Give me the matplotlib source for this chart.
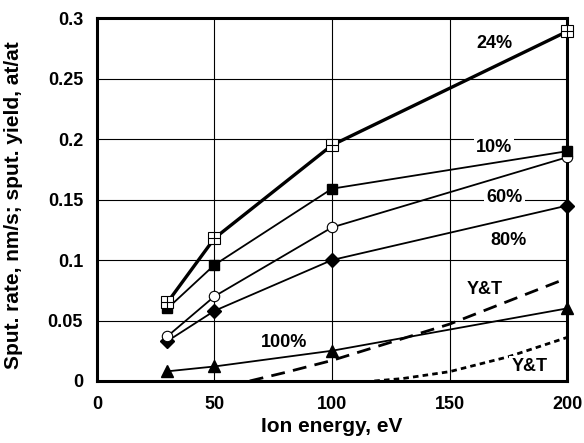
import matplotlib
matplotlib.use("Agg")
import matplotlib.pyplot as plt

plt.rcParams['font.family'] = ['Liberation Sans', 'DejaVu Sans']
plt.rcParams['font.weight'] = 'bold'

energy = [30, 50, 100, 200]
s24 = [0.065, 0.118, 0.195, 0.289]
s10 = [0.060, 0.096, 0.159, 0.190]
s60 = [0.037, 0.070, 0.127, 0.185]
s80 = [0.033, 0.058, 0.100, 0.145]
s100 = [0.008, 0.012, 0.025, 0.060]

yt1_x = [65, 80, 100, 125, 150, 175, 200]
yt1_y = [0.0, 0.007, 0.017, 0.032, 0.047, 0.066, 0.085]
yt2_x = [118, 130, 150, 175, 200]
yt2_y = [0.0, 0.002, 0.0077, 0.020, 0.036]

fig = plt.figure(figsize=(5.84, 4.43), dpi=100)
ax = fig.add_axes([0.166, 0.14, 0.805, 0.819])

ax.set_xlim(0, 200)
ax.set_ylim(0, 0.3)
ax.set_xticks([0, 50, 100, 150, 200])
ax.set_yticks([0, 0.05, 0.1, 0.15, 0.2, 0.25, 0.3])
ax.set_yticklabels(['0', '0.05', '0.1', '0.15', '0.2', '0.25', '0.3'])
ax.grid(True, color='black', linewidth=0.8)
ax.set_axisbelow(True)
ax.tick_params(length=0, labelsize=13)
ax.tick_params(axis='x', pad=10.5)
ax.tick_params(axis='y', pad=10)
for sp in ax.spines.values():
    sp.set_linewidth(2.2)

# model curves
ax.plot(yt1_x, yt1_y, color='black', lw=2.0, ls=(0, (5, 3)))
ax.plot(yt2_x, yt2_y, color='black', lw=2.0, ls=(0, (2, 1.5)))

kw = dict(color='black', clip_on=False, zorder=3)
ax.plot(energy, s100, lw=1.3, marker='^', ms=8, **kw)
ax.plot(energy, s80, lw=1.3, marker='D', ms=7, **kw)
ax.plot(energy, s60, lw=1.3, marker='o', ms=7.5, mfc='white', mec='black', mew=0.8, **kw)
ax.plot(energy, s10, lw=1.3, marker='s', ms=7.5, **kw)
ax.plot(energy, s24, lw=2.4, marker='s', ms=8.5, mfc='white', mec='black', mew=0.8, **kw)
ax.plot(energy, s24, lw=0, marker='+', ms=8.5, mew=0.8, color='black', clip_on=False, zorder=4)

box = dict(facecolor='white', edgecolor='none', pad=1.5)
labels = [('24%', 169, 0.279), ('10%', 169, 0.193), ('60%', 173.5, 0.152),
          ('80%', 175, 0.1165), ('Y&T', 165, 0.076), ('Y&T', 184, 0.0116),
          ('100%', 79.6, 0.032)]
for t, x, y in labels:
    ax.text(x, y, t, ha='center', va='center', fontsize=13, fontweight='bold',
            bbox=box, zorder=5)

ax.set_xlabel('Ion energy, eV', fontsize=15, fontweight='bold')
ax.set_ylabel('Sput. rate, nm/s; sput. yield, at/at', fontsize=15, fontweight='bold')
ax.xaxis.set_label_coords(0.5, -0.1)
ax.yaxis.set_label_coords(-0.157, 0.485)

fig.savefig('out.png', dpi=100)
